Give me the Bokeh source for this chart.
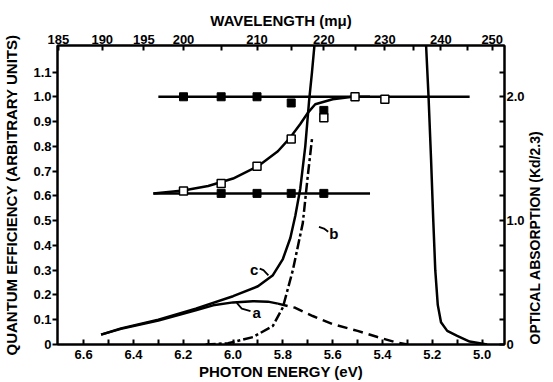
import math
from bokeh.plotting import figure
from bokeh.models import Range1d, LinearAxis, FixedTicker, Label
from bokeh.embed import file_html
from bokeh.resources import INLINE

HC = 1239.8  # eV * nm

# ---- axis tick definitions ----
energy_major = [6.6, 6.4, 6.2, 6.0, 5.8, 5.6, 5.4, 5.2, 5.0]
energy_labels = ["6.6", "6.4", "6.2", "6.0", "5.8", "5.6", "5.4", "5.2", "5.0"]
energy_minor = [6.5, 6.3, 6.1, 5.9, 5.7, 5.5, 5.3, 5.1]
wl_major = [185, 190, 195, 200, 210, 220, 230, 240, 250]
wl_minor = [205, 215, 225, 235, 245]
qe_ticks = [0, 0.1, 0.2, 0.3, 0.4, 0.5, 0.6, 0.7, 0.8, 0.9, 1.0, 1.1]
qe_labels = ["0", "0.1", "0.2", "0.3", "0.4", "0.5", "0.6", "0.7", "0.8", "0.9", "1.0", "1.1"]
abs_major = [0, 1.0, 2.0]
abs_labels = ["0", "1.0", "2.0"]
abs_minor = [0.2, 0.4, 0.6, 0.8, 1.2, 1.4, 1.6, 1.8, 2.2]

# ---- quantum efficiency data (left axis) ----
sq_wl = [200, 205, 210, 215, 220, 225, 230]
qe_open = [0.62, 0.65, 0.72, 0.83, 0.915, 1.0, 0.99]
fill_hi_wl = [200, 205, 210, 215, 220]
fill_hi_q = [1.0, 1.0, 1.0, 0.975, 0.945]
fill_lo_wl = [205, 210, 215, 220]
fill_lo_q = [0.61, 0.61, 0.61, 0.61]
ref_hi_E = [6.30, 5.05]
ref_hi_q = [1.0, 1.0]
ref_lo_E = [6.32, 5.45]
ref_lo_q = [0.61, 0.61]
s_E = [6.32, 6.2, 6.1, 6.0, 5.9, 5.82, 5.775, 5.73, 5.70, 5.67, 5.6, 5.52, 5.45]
s_q = [0.61, 0.622, 0.64, 0.67, 0.72, 0.78, 0.83, 0.89, 0.935, 0.97, 0.99, 1.0, 1.0]

# ---- optical absorption curves (right axis, Kd/2.3) ----
c_E = [6.53, 6.45, 6.30, 6.15, 6.00, 5.90, 5.84, 5.80, 5.77, 5.75, 5.73, 5.71, 5.695, 5.683, 5.673]
c_A = [0.08, 0.13, 0.20, 0.29, 0.39, 0.47, 0.56, 0.69, 0.86, 1.04, 1.26, 1.60, 1.96, 2.20, 2.42]
c2_E = [5.225, 5.215, 5.205, 5.196, 5.188, 5.178, 5.165, 5.14, 5.10, 5.05, 4.98]
c2_A = [2.42, 2.0, 1.5, 1.0, 0.6, 0.32, 0.18, 0.11, 0.07, 0.024, 0.0]
a_E = [6.53, 6.45, 6.30, 6.15, 6.08, 6.00, 5.92, 5.86, 5.82]
a_A = [0.08, 0.126, 0.194, 0.276, 0.316, 0.340, 0.350, 0.346, 0.330]
a2_E = [5.82, 5.75, 5.68, 5.60, 5.50, 5.42, 5.35, 5.30]
a2_A = [0.330, 0.296, 0.230, 0.164, 0.110, 0.060, 0.020, 0.0]
b_E = [6.11, 6.02, 5.92, 5.84, 5.80, 5.76, 5.72, 5.70, 5.683]
b_A = [0.0, 0.01, 0.06, 0.15, 0.30, 0.60, 0.98, 1.36, 1.66]

# curve labels (text, E, qe-units) and their short leader strokes
curve_labels = [("c", 5.915, 0.304), ("a", 5.905, 0.130), ("b", 5.595, 0.449)]
leaders = [([5.893, 5.878, 5.858], [0.306, 0.300, 0.279]),
           ([5.985, 5.965, 5.93], [0.168, 0.145, 0.135]),
           ([5.655, 5.635, 5.618], [0.475, 0.468, 0.455])]

FONT = "Liberation Sans"
X0, X1, Y1 = 6.705, 4.91, 1.207

p = figure(width=553, height=382, output_backend="svg", toolbar_location=None,
           x_range=Range1d(X0, X1), y_range=Range1d(0, Y1),
           min_border_left=54, min_border_right=47, min_border_top=45, min_border_bottom=38)
p.extra_y_ranges = {"abs": Range1d(0, 2 * Y1)}
p.grid.visible = False
p.outline_line_color = "black"
p.outline_line_width = 2
p.background_fill_color = "white"
p.border_fill_color = "white"


def style(ax, size="13px"):
    ax.axis_line_width = 2
    ax.major_tick_line_width = 2
    ax.minor_tick_line_width = 2
    ax.major_label_text_font = FONT
    ax.major_label_text_font_style = "bold"
    ax.major_label_text_font_size = size
    ax.major_label_text_color = "black"
    ax.axis_label_text_font = FONT
    ax.axis_label_text_font_style = "bold"
    ax.axis_label_text_font_size = "15px"
    ax.axis_label_text_color = "black"


# bottom axis
xa = p.xaxis[0]
xa.ticker = FixedTicker(ticks=energy_major, minor_ticks=energy_minor)
xa.major_label_overrides = {t: l for t, l in zip(energy_major, energy_labels)}
xa.axis_label = "PHOTON ENERGY (eV)"
style(xa)
xa.major_tick_in = 5
xa.major_tick_out = 0
xa.minor_tick_in = 5
xa.minor_tick_out = 0
xa.major_label_standoff = 5
xa.axis_label_standoff = 1

# left axis
ya = p.yaxis[0]
ya.ticker = FixedTicker(ticks=qe_ticks, minor_ticks=[])
ya.major_label_overrides = {t: l for t, l in zip(qe_ticks, qe_labels)}
ya.axis_label = "QUANTUM EFFICIENCY (ARBITRARY UNITS)"
style(ya)
ya.major_tick_in = 0
ya.major_tick_out = 5
ya.major_label_standoff = 1
ya.axis_label_standoff = 10

# top axis: wavelength
top = LinearAxis(ticker=FixedTicker(ticks=[HC / w for w in wl_major],
                                    minor_ticks=[HC / w for w in wl_minor]),
                 major_label_overrides={HC / w: str(w) for w in wl_major},
                 axis_label="WAVELENGTH (m\u03bc)")
style(top)
top.major_tick_in = 5
top.major_tick_out = 0
top.minor_tick_in = 5
top.minor_tick_out = 0
top.major_label_standoff = 2
top.axis_label_standoff = 3
p.add_layout(top, "above")

# right axis: absorption
right = LinearAxis(y_range_name="abs",
                   ticker=FixedTicker(ticks=abs_major, minor_ticks=abs_minor),
                   major_label_overrides={t: l for t, l in zip(abs_major, abs_labels)},
                   axis_label="OPTICAL ABSORPTION (Kd/2.3)")
style(right)
right.axis_label_text_font_size = "14px"
right.major_tick_in = 5
right.major_tick_out = 0
right.minor_tick_in = 5
right.minor_tick_out = 0
right.major_label_standoff = 2
right.axis_label_standoff = 7
if "axis_label_orientation" in right.properties():
    right.axis_label_orientation = math.pi / 2
if "axis_label_align" in right.properties():
    right.axis_label_align = "start"
p.add_layout(right, "right")

LW = 2.5
# absorption curves
p.line(c_E, c_A, y_range_name="abs", line_color="black", line_width=LW)
p.line(c2_E, c2_A, y_range_name="abs", line_color="black", line_width=LW)
p.line(a_E, a_A, y_range_name="abs", line_color="black", line_width=LW)
p.line(a2_E, a2_A, y_range_name="abs", line_color="black", line_width=LW, line_dash="10 6")
p.line(b_E, b_A, y_range_name="abs", line_color="black", line_width=LW, line_dash="10 3 3 3")

# quantum efficiency
p.line(ref_hi_E, ref_hi_q, line_color="black", line_width=LW)
p.line(ref_lo_E, ref_lo_q, line_color="black", line_width=LW)
p.line(s_E, s_q, line_color="black", line_width=LW)
p.scatter([HC / w for w in fill_hi_wl], fill_hi_q, marker="square", size=8,
          fill_color="black", line_color="black")
p.scatter([HC / w for w in fill_lo_wl], fill_lo_q, marker="square", size=8,
          fill_color="black", line_color="black")
p.scatter([HC / w for w in sq_wl], qe_open, marker="square", size=8,
          fill_color="white", line_color="black", line_width=1.5)

for lx, ly in leaders:
    p.line(lx, ly, line_color="black", line_width=1.8)
for txt, ex, qy in curve_labels:
    p.add_layout(Label(x=ex, y=qy, text=txt, text_font=FONT, text_font_style="bold",
                       text_color="black", text_font_size="15px",
                       text_align="center", text_baseline="middle"))

open("out.html", "w").write(file_html(p, INLINE))
